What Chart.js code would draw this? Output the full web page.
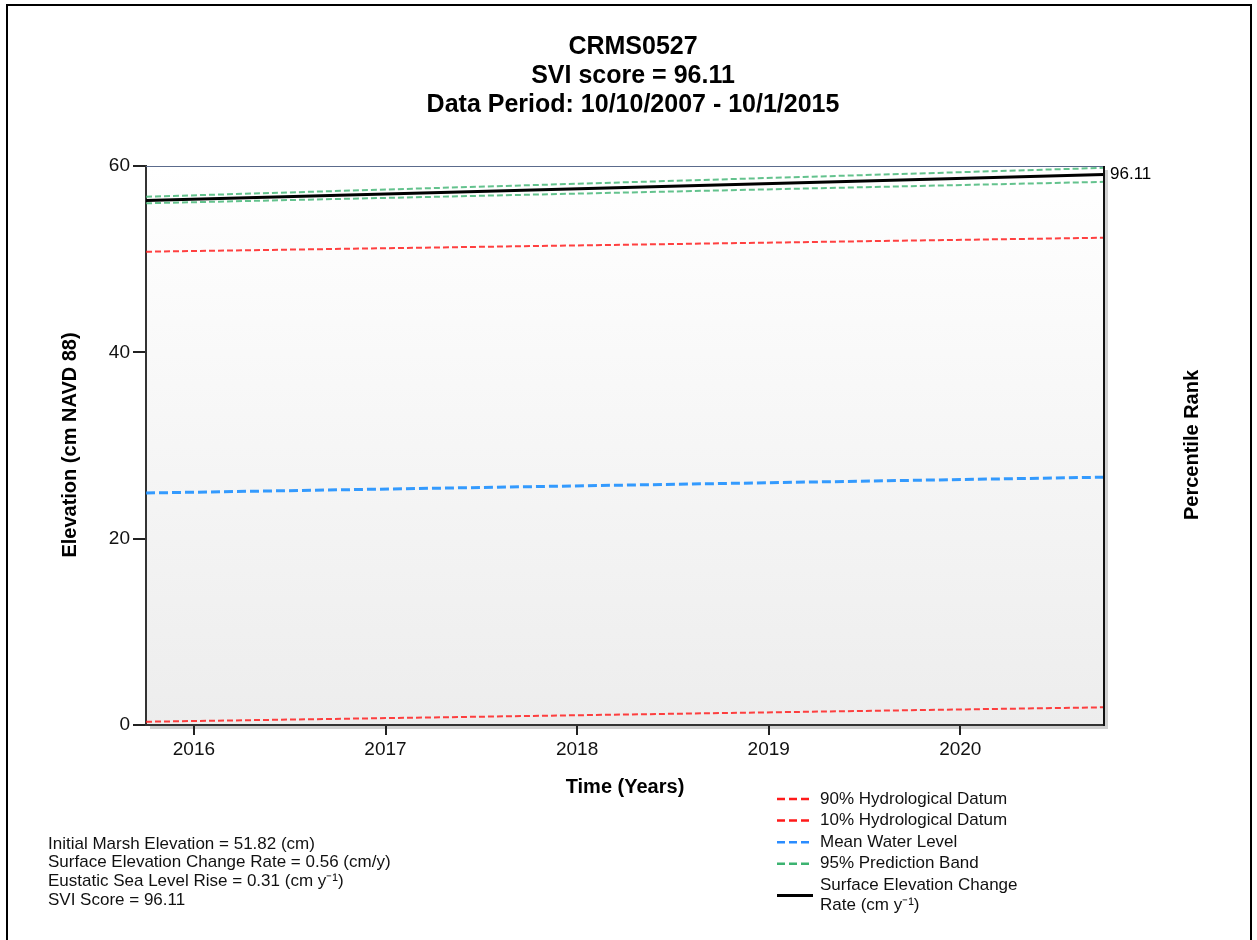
<!DOCTYPE html>
<html>
<head>
<meta charset="utf-8">
<script src="https://cdn.jsdelivr.net/npm/chart.js@4/dist/chart.umd.min.js"></script>
<style>
  html, body { margin: 0; padding: 0; background: #fff; }
  #wrap { width: 1257px; height: 940px; position: relative; }
</style>
</head>
<body>
<div id="wrap"><canvas id="sviChart"></canvas></div>
<script>
// chart values
const xYears = [2015.75, 2020.75];
const xTickYears = [2016, 2017, 2018, 2019, 2020];
const yTicks = [0, 20, 40, 60];

const hydro90 = [50.8, 52.3];
const hydro10 = [0.35, 1.9];
const meanWater = [24.9, 26.6];
const bandUpper = [56.7, 59.8];
const bandLower = [56.0, 58.3];
const secRate = [56.3, 59.1];

const titleLines = ['CRMS0527', 'SVI score = 96.11', 'Data Period: 10/10/2007 - 10/1/2015'];
const statLines = [
  'Initial Marsh Elevation = 51.82 (cm)',
  'Surface Elevation Change Rate = 0.56 (cm/y)',
  'Eustatic Sea Level Rise = 0.31 (cm y\u207B\u00B9)',
  'SVI Score = 96.11'
];
const percentileLabel = '96.11';

const RED = 'rgba(255, 30, 30, 0.85)';
const BLUE = 'rgba(30, 144, 255, 0.9)';
const GREEN = 'rgba(60, 179, 113, 0.8)';

function pts(vals) {
  return xYears.map((x, i) => ({ x: x, y: vals[i] }));
}

const legendItems = [
  { text: ['90% Hydrological Datum'], color: '#ff1a1a', dash: [8, 4], width: 2.5 },
  { text: ['10% Hydrological Datum'], color: '#ff1a1a', dash: [8, 4], width: 2.5 },
  { text: ['Mean Water Level'], color: '#2a8cff', dash: [8, 4], width: 2.5 },
  { text: ['95% Prediction Band'], color: '#3cb371', dash: [8, 4], width: 2.5 },
  { text: ['Surface Elevation Change', 'Rate (cm y\u207B\u00B9)'], color: '#000', dash: [], width: 3 }
];

const FONT = '"Liberation Sans", Arial, sans-serif';

const decor = {
  id: 'decor',
  beforeDraw(chart) {
    const ctx = chart.ctx;
    const a = chart.chartArea;
    ctx.save();
    ctx.fillStyle = '#fff';
    ctx.fillRect(0, 0, chart.width, chart.height);
    // outer frame
    ctx.strokeStyle = '#000';
    ctx.lineWidth = 2;
    ctx.strokeRect(7, 5, 1244, 945);
    // shadow
    ctx.fillStyle = '#d0d0d0';
    ctx.fillRect(a.right + 1, a.top + 4, 3, a.bottom - a.top);
    ctx.fillRect(a.left + 4, a.bottom + 1, a.right - a.left, 3);
    // plot background
    const g = ctx.createLinearGradient(0, a.top, 0, a.bottom);
    g.addColorStop(0, '#ffffff');
    g.addColorStop(1, '#ededed');
    ctx.fillStyle = g;
    ctx.fillRect(a.left, a.top, a.right - a.left, a.bottom - a.top);
    ctx.restore();
  },
  afterDraw(chart) {
    const ctx = chart.ctx;
    const a = chart.chartArea;
    ctx.save();
    // top and right borders
    ctx.strokeStyle = '#5b6b8c';
    ctx.lineWidth = 1;
    ctx.beginPath();
    ctx.moveTo(a.left, a.top + 0.5);
    ctx.lineTo(a.right, a.top + 0.5);
    ctx.stroke();
    ctx.strokeStyle = '#111';
    ctx.lineWidth = 2;
    ctx.beginPath();
    ctx.moveTo(a.right, a.top);
    ctx.lineTo(a.right, a.bottom + 1);
    ctx.stroke();

    ctx.fillStyle = '#000';
    // title
    ctx.textAlign = 'center';
    ctx.textBaseline = 'middle';
    ctx.font = 'bold 25px ' + FONT;
    titleLines.forEach((t, i) => ctx.fillText(t, 633, 47 + i * 29));

    // axis titles
    ctx.font = 'bold 20px ' + FONT;
    ctx.fillText('Time (Years)', 625, 787);
    ctx.save();
    ctx.translate(70, 445);
    ctx.rotate(-Math.PI / 2);
    ctx.fillText('Elevation (cm NAVD 88)', 0, 0);
    ctx.restore();
    ctx.save();
    ctx.translate(1192, 445);
    ctx.rotate(-Math.PI / 2);
    ctx.fillText('Percentile Rank', 0, 0);
    ctx.restore();

    // percentile label at the end of the rate line
    const y = chart.scales.y.getPixelForValue(secRate[secRate.length - 1]);
    ctx.textAlign = 'left';
    ctx.font = '17px ' + FONT;
    ctx.fillText(percentileLabel, a.right + 6, y);

    // stats text
    ctx.fillStyle = '#111';
    statLines.forEach((t, i) => ctx.fillText(t, 48, 844 + i * 18.7));

    // legend
    let ly = 799;
    legendItems.forEach(item => {
      ctx.strokeStyle = item.color;
      ctx.lineWidth = item.width;
      ctx.setLineDash(item.dash);
      ctx.beginPath();
      const my = item.text.length > 1 ? ly + 10 : ly;
      ctx.moveTo(777, my);
      ctx.lineTo(813, my);
      ctx.stroke();
      ctx.setLineDash([]);
      item.text.forEach((t, j) => ctx.fillText(t, 820, ly + j * 19.5));
      ly += 21.6;
    });
    ctx.restore();
  }
};

const ctx = document.getElementById('sviChart').getContext('2d');

new Chart(ctx, {
  type: 'line',
  data: {
    datasets: [
      { label: '10% Hydrological Datum', data: pts(hydro10), borderColor: RED, borderWidth: 2, borderDash: [6, 3] },
      { label: '90% Hydrological Datum', data: pts(hydro90), borderColor: RED, borderWidth: 2, borderDash: [6, 3] },
      { label: 'Mean Water Level', data: pts(meanWater), borderColor: BLUE, borderWidth: 3, borderDash: [9, 4] },
      { label: '95% Prediction Band', data: pts(bandUpper), borderColor: GREEN, borderWidth: 2, borderDash: [6, 3] },
      { label: '95% Prediction Band (lower)', data: pts(bandLower), borderColor: GREEN, borderWidth: 2, borderDash: [6, 3] },
      { label: 'Surface Elevation Change Rate', data: pts(secRate), borderColor: '#000', borderWidth: 3 }
    ]
  },
  options: {
    responsive: true,
    maintainAspectRatio: false,
    animation: false,
    layout: { autoPadding: false, padding: { top: 166, right: 153, left: 0, bottom: 0 } },
    elements: { point: { radius: 0 }, line: { tension: 0 } },
    plugins: { legend: { display: false }, tooltip: { enabled: false } },
    scales: {
      x: {
        type: 'linear',
        min: xYears[0],
        max: xYears[1],
        afterFit: s => { s.height = 215; },
        afterBuildTicks: s => { s.ticks = xTickYears.map(v => ({ value: v })); },
        grid: { display: true, drawOnChartArea: false, drawTicks: true, tickLength: 10, color: '#222', lineWidth: 2 },
        border: { display: true, color: '#333', width: 2 },
        ticks: { color: '#111', padding: 3, font: { family: FONT, size: 19 }, callback: v => String(v) }
      },
      y: {
        min: 0,
        max: 60,
        afterFit: s => { s.width = 146; },
        afterBuildTicks: s => { s.ticks = yTicks.map(v => ({ value: v })); },
        grid: { display: true, drawOnChartArea: false, drawTicks: true, tickLength: 13, color: '#222', lineWidth: 2 },
        border: { display: true, color: '#333', width: 2 },
        ticks: { color: '#111', padding: 3, font: { family: FONT, size: 19 } }
      }
    }
  },
  plugins: [decor]
});
</script>
</body>
</html>
